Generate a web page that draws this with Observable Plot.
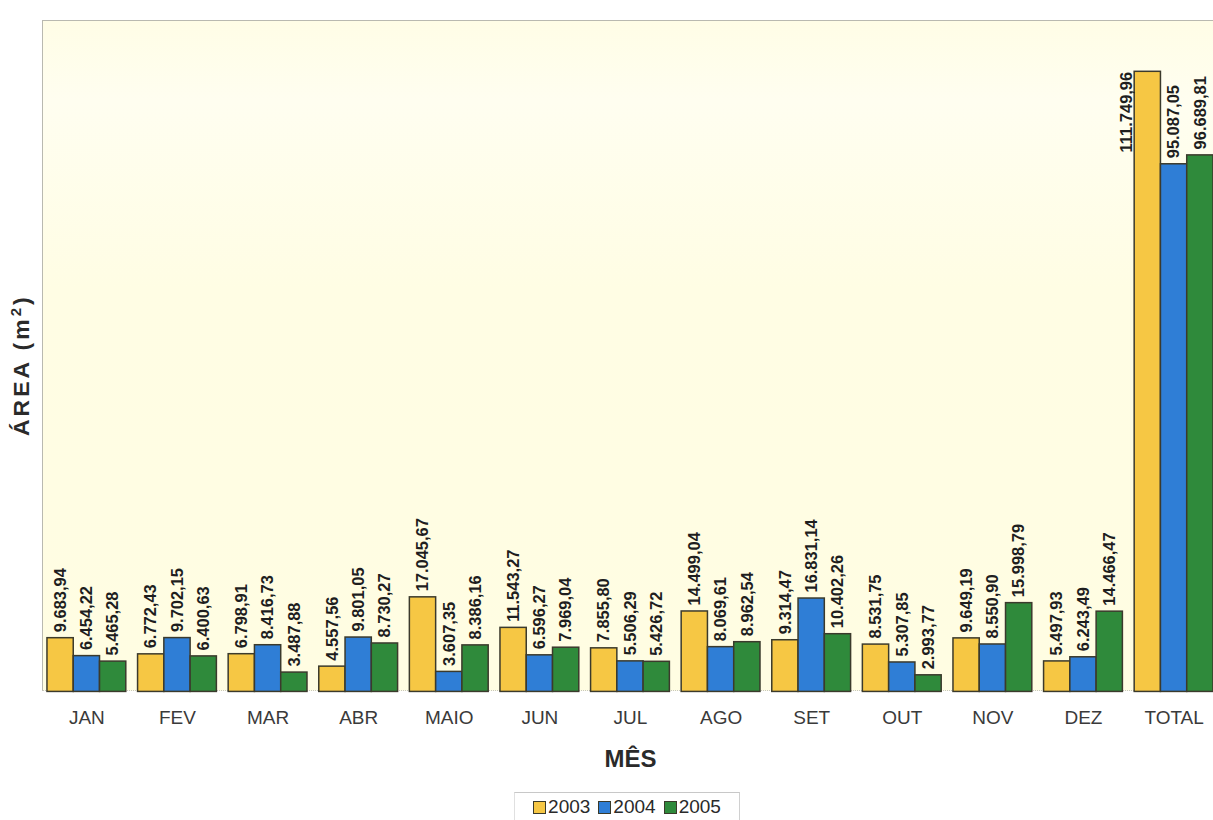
<!DOCTYPE html>
<html>
<head>
<meta charset="utf-8">
<script src="https://cdn.jsdelivr.net/npm/d3@7"></script>
<script src="https://cdn.jsdelivr.net/npm/@observablehq/plot@0.6"></script>
<style>
  html, body { margin: 0; padding: 0; background: #fff; overflow: hidden; }
  #wrap { position: relative; width: 1213px; height: 790px; overflow: hidden; }
  #bg { position: absolute; left: 42px; top: 20px; width: 1190px; height: 671px;
        background: linear-gradient(180deg, #FFFDE6 0%, #FFFEF0 12%, #FFFDE4 40%, #FFFDE2 100%);
        border-top: 1px solid #b9b9b0; border-left: 1px solid #b9b9b0; border-bottom: 1px dotted #c8c8c0; box-sizing: border-box; }
  #chart { position: absolute; left: 0; top: 0; }
  #legend { position: absolute; left: 514px; top: 792px; width: 226px; height: 28px;
            border-top: 1px solid #c8c8c8; border-left: 1px solid #e0e0e0; border-right: 1px solid #d0d0d0;
            font-family: "Liberation Sans", Arial, sans-serif; font-size: 19px; color: #2a2a2a;
            display: flex; align-items: center; justify-content: center; gap: 8px; box-sizing: border-box; }
  .sw { display: inline-block; width: 11px; height: 11px; border: 1.5px solid #3a3a2a; margin-right: 2px; vertical-align: middle; }
</style>
</head>
<body>
<div id="wrap">
  <div id="bg"></div>
  <div id="chart"></div>
</div>
<div id="legend"></div>
<script>
const months = ["JAN","FEV","MAR","ABR","MAIO","JUN","JUL","AGO","SET","OUT","NOV","DEZ","TOTAL"];
const years = ["2003","2004","2005"];
const v2003 = [9683.94, 6772.43, 6798.91, 4557.56, 17045.67, 11543.27, 7855.80, 14499.04, 9314.47, 8531.75, 9649.19, 5497.93, 111749.96];
const v2004 = [6454.22, 9702.15, 8416.73, 9801.05, 3607.35, 6596.27, 5506.29, 8069.61, 16831.14, 5307.85, 8550.90, 6243.49, 95087.05];
const v2005 = [5465.28, 6400.63, 3487.88, 8730.27, 8386.16, 7969.04, 5426.72, 8962.54, 10402.26, 2993.77, 15998.79, 14466.47, 96689.81];
const colors = ["#F6C744", "#2F7ED6", "#2F8A3B"];

const series = [v2003, v2004, v2005];
const data = [];
months.forEach((m, i) => years.forEach((y, j) => data.push({month: m, year: y, value: series[j][i]})));

const fmt = d3.formatLocale({decimal: ",", thousands: ".", grouping: [3], currency: ["", ""]}).format(",.2f");
const isSide = d => d.month === "TOTAL" && d.year === "2003";

const labelStyle = {fx: "month", x: "year", y: "value", text: d => fmt(d.value), rotate: -90, lineAnchor: "middle", fontSize: 16.5, fontWeight: "bold", fill: "#1e1e1e"};

const chart = Plot.plot({
  width: 1214,
  height: 790,
  marginTop: 20,
  marginLeft: 47,
  marginRight: 0,
  marginBottom: 98,
  style: {fontFamily: "'Liberation Sans', Arial, sans-serif", fontSize: "19px", background: "transparent", color: "#3a3a3a"},
  fx: {domain: months, paddingInner: 0.13, paddingOuter: 0, round: false, label: "MÊS", labelAnchor: "center", tickSize: 0, tickPadding: 19, labelOffset: 75},
  x: {domain: years, padding: 0, round: false, axis: null},
  y: {domain: [0, 121000], ticks: [], tickSize: 0, label: "ÁREA (m²)", labelAnchor: "center", labelArrow: false, labelOffset: 35},
  color: {domain: years, range: colors},
  marks: [
    Plot.barY(data, {fx: "month", x: "year", y: "value", fill: "year", stroke: "#3b3a2c", strokeWidth: 1.5}),
    Plot.text(data.filter(d => !isSide(d)), {...labelStyle, textAnchor: "start", dy: -6}),
    Plot.text(data.filter(isSide), {...labelStyle, textAnchor: "end", dx: -21, dy: 0})
  ]
});
document.getElementById("chart").appendChild(chart);

const ylab = d3.select(chart).selectAll("text").filter(function() { return this.textContent.trim().startsWith("ÁREA"); });
ylab.text("ÁREA (m")
  .attr("dx", -9)
  .style("font-weight", "bold").style("font-size", "23px").style("letter-spacing", "3px").style("fill", "#2a2a2a");
ylab.append("tspan").attr("baseline-shift", "super").style("font-size", "15px").text("2");
ylab.append("tspan").text(")");
d3.select(chart).selectAll("text").filter(function() { return this.textContent.trim() === "MÊS"; })
  .style("font-weight", "bold").style("font-size", "24px").style("fill", "#2a2a2a");

const legend = d3.select("#legend");
years.forEach((y, j) => {
  const item = legend.append("span");
  item.append("span").attr("class", "sw").style("background", colors[j]);
  item.append("span").text(y);
});
</script>
</body>
</html>
